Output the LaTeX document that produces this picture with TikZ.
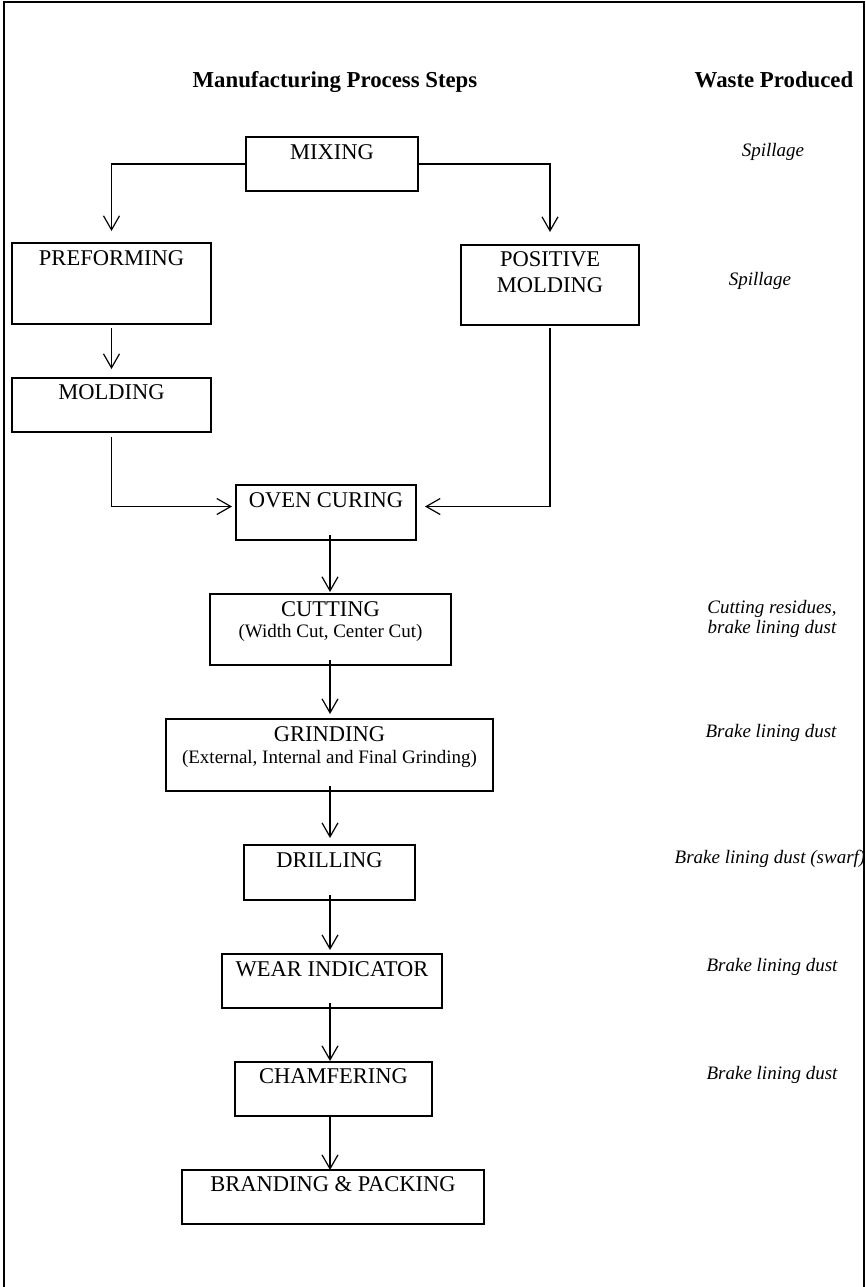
\documentclass[tikz,border=0pt]{standalone}
\usepackage{fontspec}
\setmainfont{Liberation Serif}
\usetikzlibrary{arrows.meta}
\begin{document}
\begin{tikzpicture}[x=1pt,y=-1pt,
 box/.style={draw, line width=1.3pt, inner sep=0pt, outer sep=0pt},
 lbl/.style={anchor=base, inner sep=0pt, font=\fontsize{22.5}{27}\selectfont},
 sub/.style={anchor=base, inner sep=0pt, font=\fontsize{19}{23}\selectfont},
 waste/.style={anchor=base, inner sep=0pt, font=\fontsize{19}{23}\selectfont\itshape},
 head/.style={anchor=base, inner sep=0pt, font=\fontsize{22.8}{27}\selectfont\bfseries},
 arr/.style={line width=1.2pt, -{Straight Barb[length=14pt,width=16pt,line width=1.2pt]}}]
\useasboundingbox (0,0) rectangle (866,1287);
\draw[line width=1.4pt] (4,1287) -- (4,2) -- (864,2) -- (864,1287);
% boxes
\node[box, minimum width=172pt, minimum height=54pt] (mix) at (332,164) {};
\node[box, minimum width=199pt, minimum height=81pt] (pre) at (111.5,283.5) {};
\node[box, minimum width=178pt, minimum height=80pt] (pos) at (550,285) {};
\node[box, minimum width=199pt, minimum height=54pt] (mold) at (111.5,405) {};
\node[box, minimum width=180pt, minimum height=55pt] (oven) at (326,512.5) {};
\node[box, minimum width=241pt, minimum height=71pt] (cut) at (330.5,629.5) {};
\node[box, minimum width=327pt, minimum height=72pt] (grind) at (329.5,755) {};
\node[box, minimum width=171pt, minimum height=55pt] (drill) at (329.5,872.5) {};
\node[box, minimum width=220pt, minimum height=54pt] (wear) at (332,981) {};
\node[box, minimum width=197pt, minimum height=54pt] (chamf) at (333.5,1089) {};
\node[box, minimum width=302pt, minimum height=54pt] (brand) at (333,1197) {};
\coordinate (sp) at (330,0);
% texts
\node[head] (h1) at (335,88) {Manufacturing Process Steps};
\node[head] (h2) at (774,88) {Waste Produced};
\node[lbl] (tmix) at (332,159) {MIXING};
\node[waste] (w1) at (773,156) {Spillage};
\node[lbl] (tpre) at (111.5,265.5) {PREFORMING};
\node[lbl] (tpos1) at (550,266) {POSITIVE};
\node[lbl] (tpos2) at (550,292.5) {MOLDING};
\node[waste] (w2) at (760,285) {Spillage};
\node[lbl] (tmold) at (111.5,399) {MOLDING};
\node[lbl] (toven) at (326,507) {OVEN CURING};
\node[lbl] (tcut) at (330.5,616) {CUTTING};
\node[sub] (scut) at (330.5,637) {(Width Cut, Center Cut)};
\node[waste] (w3a) at (772,613) {Cutting residues,};
\node[waste] (w3b) at (772,633) {brake lining dust};
\node[lbl] (tgrind) at (329.5,741) {GRINDING};
\node[sub] (sgrind) at (329.5,763) {(External, Internal and Final Grinding)};
\node[waste] (w4) at (771,737) {Brake lining dust};
\node[lbl] (tdrill) at (329.5,867) {DRILLING};
\node[waste] (w5) at (770,863) {Brake lining dust (swarf)};
\node[lbl] (twear) at (332,976) {WEAR INDICATOR};
\node[waste] (w6) at (772,971) {Brake lining dust};
\node[lbl] (tchamf) at (333.5,1083) {CHAMFERING};
\node[waste] (w7) at (772,1079) {Brake lining dust};
\node[lbl] (tbrand) at (333,1191) {BRANDING \& PACKING};
% connectors
\draw[arr, shorten >=12pt] (mix.west) -| (pre.north);
\draw[arr, shorten >=13pt] (mix.east) -| (pos.north);
\draw[arr, shorten <=4pt, shorten >=9pt] (pre.south) -- (mold.north);
\draw[arr] ([yshift=-5pt]mold.south) |- ([xshift=-4pt,yshift=6pt]oven.west);
\draw[arr] ([yshift=-3pt]pos.south) |- ([xshift=9pt,yshift=6pt]oven.east);
\draw[arr, shorten <=-5pt, shorten >=2pt] (oven.south -| sp) -- (cut.north -| sp);
\draw[arr, shorten <=-5pt, shorten >=5pt] (cut.south -| sp) -- (grind.north -| sp);
\draw[arr, shorten <=-5pt, shorten >=7pt] (grind.south -| sp) -- (drill.north -| sp);
\draw[arr, shorten <=-5pt, shorten >=4pt] (drill.south -| sp) -- (wear.north -| sp);
\draw[arr, shorten <=-5pt, shorten >=1pt] (wear.south -| sp) -- (chamf.north -| sp);
\draw[arr] (chamf.south -| sp) -- (brand.north -| sp);
\end{tikzpicture}
\end{document}
